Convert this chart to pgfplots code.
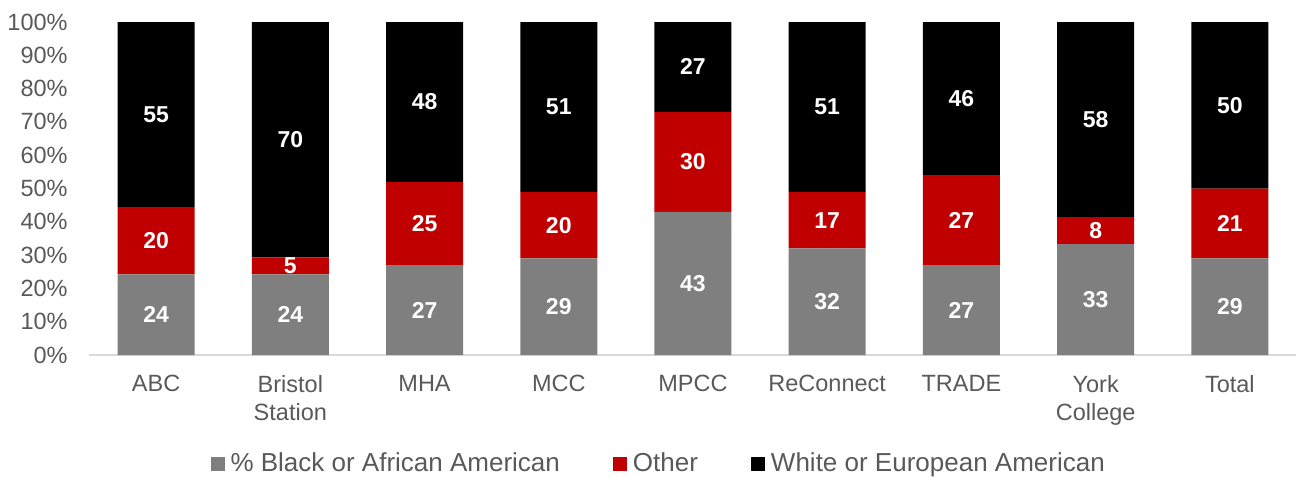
\documentclass[border=0pt]{standalone}
\usepackage{fontspec}
\setmainfont{Liberation Sans}
\usepackage{pgfplots}
\usepackage{pgfplotstable}
\pgfplotsset{compat=1.18}

\definecolor{barGray}{HTML}{7F7F7F}
\definecolor{barRed}{HTML}{C00000}
\definecolor{txt}{HTML}{595959}
\definecolor{axisLine}{HTML}{D9D9D9}

% heights are the shares scaled to 100, labels are the rounded shares
\pgfplotstableread{
x b o w bl ol wl
0 24.24 20.20 55.56 24 20 55
1 24.24 5.05 70.71 24 5 70
2 27 25 48 27 25 48
3 29 20 51 29 20 51
4 43 30 27 43 30 27
5 32 17 51 32 17 51
6 27 27 46 27 27 46
7 33.33 8.08 58.59 33 8 58
8 29 21 50 29 21 50
}\groups

\begin{document}
\begin{tikzpicture}
\useasboundingbox (-44.5pt,-61pt) rectangle (603.5pt,177.5pt);
\pgfplotsset{
  base/.style={
    scale only axis, width=604pt, height=166.5pt,
    xmin=-0.5, xmax=8.5, ymin=0, ymax=100,
    /pgf/number format/assume math mode=true,
  },
  sq legend/.style={legend image code/.code={\fill[##1] (0pt,-3.5pt) rectangle (7pt,3.5pt);}},
  lbl/.style={draw=none, mark=none, nodes near coords, point meta=explicit,
    every node near coord/.append style={anchor=center, text=white,
      font=\fontsize{11.5}{13}\selectfont\bfseries, inner sep=0pt}},
}
\begin{axis}[base,
  ybar stacked, bar width=38.5pt,
  axis lines*=left, separate axis lines,
  x axis line style={draw=axisLine, line width=0.75pt},
  y axis line style={draw=none},
  tick style={draw=none},
  xtick={0,...,8},
  xticklabels={ABC,{Bristol\\Station},MHA,MCC,MPCC,ReConnect,TRADE,{York\\College},Total},
  ytick={0,10,...,100},
  yticklabel={\pgfmathprintnumber{\tick}\%},
  ticklabel style={font=\fontsize{11.75}{14}\selectfont, text=txt},
  yticklabel style={anchor=east, inner sep=0pt, xshift=-10.5pt},
  xticklabel style={anchor=north, align=center, inner sep=0pt, yshift=-10pt},
  legend columns=3,
  legend style={at={(rel axis cs:0.472,-0.326)}, anchor=center, draw=none, fill=none,
    font=\fontsize{13}{15}\selectfont, text=txt,
    nodes={inner xsep=1.5pt, inner ysep=0.5pt},
    /tikz/every odd column/.append style={column sep=1.5pt},
    /tikz/every even column/.append style={column sep=25pt}},
]
\addplot[fill=barGray, draw=none, sq legend] table[x=x, y=b] {\groups};
\addplot[fill=barRed, draw=none, sq legend] table[x=x, y=o] {\groups};
\addplot[fill=black, draw=none, sq legend] table[x=x, y=w] {\groups};
\legend{\% Black or African American, Other, White or European American}
\end{axis}
\begin{axis}[base, hide axis]
\addplot[lbl] table[x=x, y expr=\thisrow{b}/2, meta=bl] {\groups};
\addplot[lbl] table[x=x, y expr=\thisrow{b}+\thisrow{o}/2, meta=ol] {\groups};
\addplot[lbl] table[x=x, y expr=\thisrow{b}+\thisrow{o}+\thisrow{w}/2, meta=wl] {\groups};
\end{axis}
\end{tikzpicture}
\end{document}
